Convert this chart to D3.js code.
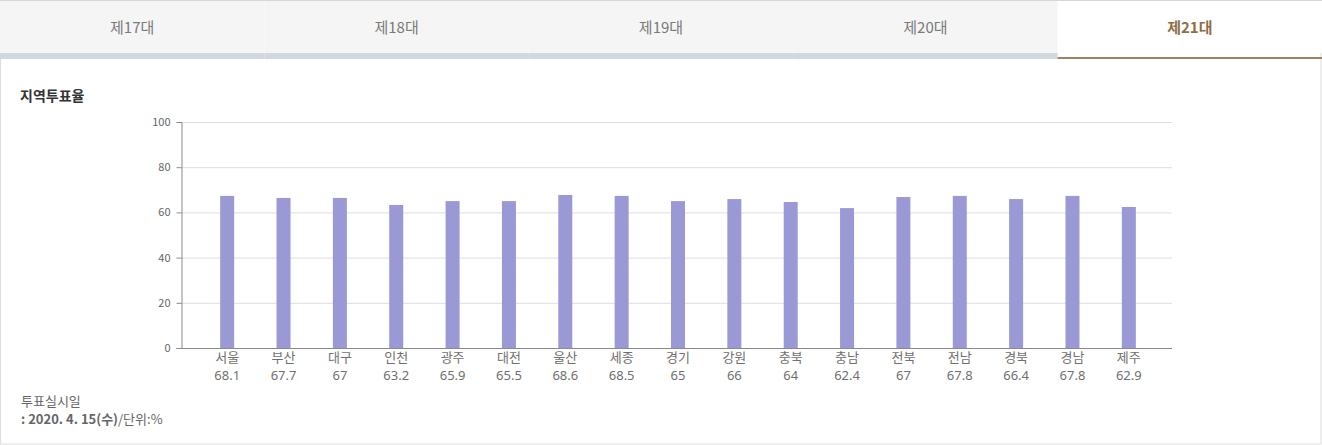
<!DOCTYPE html>
<html>
<head>
<meta charset="utf-8">
<script src="https://cdn.jsdelivr.net/npm/d3@7"></script>
<style>
  html, body { margin: 0; padding: 0; background: #fff; }
  svg { display: block; font-family: "Noto Sans CJK KR", "Noto Sans", sans-serif; }
</style>
</head>
<body>
<svg id="chart"></svg>
<script>
// tabs (election rounds)
const tabs = ["제17대", "제18대", "제19대", "제20대", "제21대"]
const activeTab = 4

// regions and turnout
const regions = ["서울", "부산", "대구", "인천", "광주", "대전", "울산", "세종", "경기",
                 "강원", "충북", "충남", "전북", "전남", "경북", "경남", "제주"]
// value labels printed under each region
const turnoutLabels = ["68.1", "67.7", "67", "63.2", "65.9", "65.5", "68.6", "68.5", "65",
                       "66", "64", "62.4", "67", "67.8", "66.4", "67.8", "62.9"]
// bar heights as drawn in the picture
const barValues = [67.3, 66.4, 66.4, 63.3, 65.0, 65.0, 67.7, 67.3, 65.0,
                   65.9, 64.6, 61.9, 66.8, 67.3, 65.9, 67.3, 62.4]
const yTicks = [0, 20, 40, 60, 80, 100]

const W = 1322, H = 445

const svg = d3.select("#chart")
    .attr("width", W)
    .attr("height", H)

// outer frame
svg.append("rect")
    .attr("x", 0.5).attr("y", 0.5)
    .attr("width", W - 1.5).attr("height", H - 1.5)
    .attr("fill", "#fff")
    .attr("stroke", "#dcdcdc")

//TABS
const tabX = d3.scaleBand().domain(tabs).range([0, W])

const tabG = svg.append("g")
    .selectAll("g")
    .data(tabs)
    .enter()
    .append("g")
        .attr("transform", d => `translate(${tabX(d)},0)`)

tabG.append("rect")
    .attr("y", 1)
    .attr("width", tabX.bandwidth())
    .attr("height", 52)
    .attr("fill", (d, i) => i === activeTab ? "#fff" : "#f5f5f5")

tabG.append("rect")
    .attr("y", 53)
    .attr("width", tabX.bandwidth())
    .attr("height", (d, i) => i === activeTab ? 2 : 6)
    .attr("transform", (d, i) => i === activeTab ? "translate(0,4)" : null)
    .attr("fill", (d, i) => i === activeTab ? "#9c8463" : "#d2d8e0")

tabG.append("text")
    .attr("x", tabX.bandwidth() / 2)
    .attr("y", 33)
    .attr("text-anchor", "middle")
    .attr("font-size", 15)
    .attr("font-weight", (d, i) => i === activeTab ? "bold" : "normal")
    .attr("fill", (d, i) => i === activeTab ? "#8e6e45" : "#7a7a7a")
    .text(d => d)

// top border line
svg.append("line")
    .attr("x1", 0).attr("x2", W)
    .attr("y1", 0.5).attr("y2", 0.5)
    .attr("stroke", "#d6d6d6")

// title
svg.append("text")
    .attr("x", 20).attr("y", 101)
    .attr("font-size", 14)
    .attr("font-weight", "bold")
    .attr("fill", "#333")
    .text("지역투표율")

//SCALES
const plotLeft = 181, plotRight = 1172, plotTop = 122, plotBottom = 348

// categories sit inside the plot, a little off both ends
const x = d3.scaleBand()
    .domain(regions)
    .range([199, 1157])
    .padding(0)

const y = d3.scaleLinear()
    .domain([0, 100])
    .range([plotBottom, plotTop])

// grid lines
svg.append("g")
    .selectAll("line")
    .data(yTicks.filter(t => t > 0))
    .enter()
    .append("line")
        .attr("x1", plotLeft).attr("x2", plotRight)
        .attr("y1", d => y(d) + 0.5).attr("y2", d => y(d) + 0.5)
        .attr("stroke", "#dedede")

// y axis
const yAxis = d3.axisLeft(y)
    .tickValues(yTicks)
    .tickSize(5)
    .tickPadding(6)

const yG = svg.append("g")
    .attr("transform", `translate(${plotLeft + 0.5},0)`)
    .call(yAxis)
yG.select(".domain").attr("stroke", "#8a8a8a")
yG.selectAll(".tick line").attr("stroke", "#8a8a8a")
yG.selectAll(".tick text")
    .attr("font-size", 11)
    .attr("fill", "#666")
    .attr("font-family", "\"Noto Sans CJK KR\", sans-serif")

//BARS
const barWidth = 14
svg.append("g")
    .selectAll("rect")
    .data(regions)
    .enter()
    .append("rect")
        .attr("x", d => x(d) + x.bandwidth() / 2 - barWidth / 2)
        .attr("y", (d, i) => y(barValues[i]))
        .attr("width", barWidth)
        .attr("height", (d, i) => y(0) - y(barValues[i]))
        .attr("fill", "#9b98d6")

// x axis line
svg.append("line")
    .attr("x1", plotLeft).attr("x2", plotRight)
    .attr("y1", plotBottom + 0.5).attr("y2", plotBottom + 0.5)
    .attr("stroke", "#8a8a8a")

// category labels: region name, then turnout below
const catG = svg.append("g")
    .selectAll("g")
    .data(regions)
    .enter()
    .append("g")
        .attr("transform", d => `translate(${x(d) + x.bandwidth() / 2},0)`)

catG.append("text")
    .attr("y", 362)
    .attr("text-anchor", "middle")
    .attr("font-size", 13)
    .attr("fill", "#6f6f6f")
    .text(d => d)

// digits in plain Noto Sans (same look, tighter line box)
catG.append("text")
    .attr("y", 380)
    .attr("text-anchor", "middle")
    .attr("font-size", 13)
    .attr("font-family", "\"Noto Sans\", sans-serif")
    .attr("fill", "#6f6f6f")
    .text((d, i) => turnoutLabels[i])

// footnote
svg.append("text")
    .attr("x", 21).attr("y", 406)
    .attr("font-size", 13)
    .attr("fill", "#666")
    .text("투표실시일")

const foot = svg.append("text")
    .attr("x", 21).attr("y", 424)
    .attr("font-size", 13)
    .attr("fill", "#666")
foot.append("tspan")
    .attr("font-weight", "bold")
    .text(": 2020. 4. 15(수)")
foot.append("tspan")
    .text("/단위:%")
</script>
</body>
</html>
